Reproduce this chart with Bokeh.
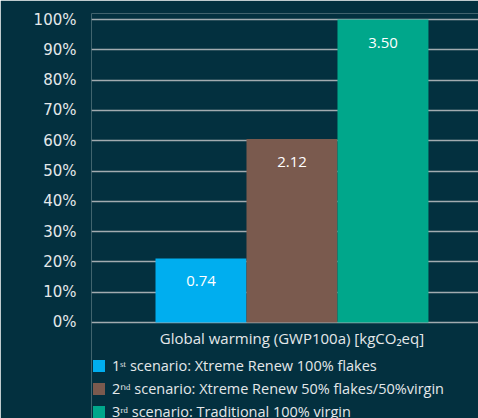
from bokeh.plotting import figure
from bokeh.models import Range1d, FixedTicker, Legend, LegendItem, ColumnDataSource
from bokeh.core.properties import value
from bokeh.embed import file_html
from bokeh.resources import INLINE

group = "Global warming (GWP100a) [kgCO₂eq]"
scenarios = [
    "1ˢᵗ scenario: Xtreme Renew 100% flakes",
    "2ⁿᵈ scenario: Xtreme Renew 50% flakes/50%virgin",
    "3ʳᵈ scenario: Traditional 100% virgin",
]
values = [0.74, 2.12, 3.50]
value_labels = ["0.74", "2.12", "3.50"]
colors = ["#00AEEF", "#7A5A4E", "#00A78B"]
y_ticks = [0, 10, 20, 30, 40, 50, 60, 70, 80, 90, 100]
y_tick_labels = ["0%", "10%", "20%", "30%", "40%", "50%", "60%", "70%", "80%", "90%", "100%"]

BG = "#03303F"
FONT = "Open Sans"
TXT = "#E4E8EA"

group_center = 0.5
bar_w = 0.3
offsets = [-0.3, 0.0, 0.3]
vmax = max(values)
pct = [v / vmax * 100 for v in values]
xs = [group_center + o for o in offsets]

p = figure(width=478, height=418, output_backend="svg", toolbar_location=None,
           x_range=Range1d(-0.161, 1.115), y_range=Range1d(-31.7, 102),
           min_border_left=91, min_border_right=0, min_border_top=13, min_border_bottom=0)
p.background_fill_color = BG
p.border_fill_color = BG
p.outline_line_color = None
p.xaxis.visible = False

items = []
for i in range(3):
    src = ColumnDataSource(dict(x=[xs[i]], top=[pct[i]], lab=[value_labels[i]]))
    r = p.vbar(x="x", top="top", width=bar_w, source=src, fill_color=colors[i], line_color=None)
    p.text(x="x", y="top", text="lab", source=src, y_offset=23, text_align="center",
           text_baseline="middle", text_color="#FFFFFF", text_font=value(FONT), text_font_size="15px")
    items.append(LegendItem(label=scenarios[i], renderers=[r]))

# category label under the group
p.text(x=[group_center], y=[0], text=[group], y_offset=16, text_align="center",
       text_baseline="middle", text_color=TXT, text_font=value(FONT), text_font_size="15px")

p.xgrid.grid_line_color = None
p.ygrid.ticker = FixedTicker(ticks=y_ticks)
p.ygrid.grid_line_color = "#A2ABB0"
p.ygrid.grid_line_width = 1.6

ya = p.yaxis[0]
ya.ticker = FixedTicker(ticks=y_ticks)
ya.major_label_overrides = {t: l for t, l in zip(y_ticks, y_tick_labels)}
ya.axis_line_color = None
ya.major_tick_line_color = None
ya.minor_tick_line_color = None
ya.major_tick_out = 0
ya.major_label_standoff = 15
ya.major_label_text_font = "DejaVu Sans"
ya.major_label_text_font_size = "15px"
ya.major_label_text_color = TXT

legend = Legend(items=items, location=(0, -3), orientation="vertical",
                glyph_width=15, glyph_height=15, label_height=15, label_standoff=6,
                spacing=4, padding=0, margin=0, border_line_color=None,
                background_fill_alpha=0, label_text_font=FONT, label_text_font_size="14.5px",
                label_text_color=TXT, label_text_baseline="middle")
p.add_layout(legend, "center")

open("out.html", "w").write(file_html(p, INLINE))
